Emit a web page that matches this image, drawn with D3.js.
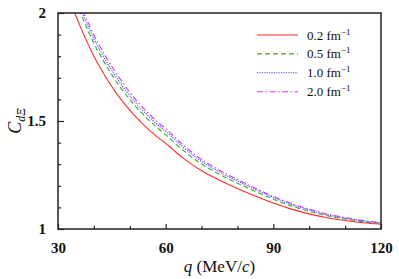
<!DOCTYPE html>
<html>
<head>
<meta charset="utf-8">
<script src="https://cdn.jsdelivr.net/npm/d3@7"></script>
<style>
  body { margin: 0; background: #fff; }
  svg { display: block; font-family: "Liberation Serif", "Times New Roman", serif; }
  .axis path { display: none; }
  .axis line { stroke: #222; stroke-width: 1.2; }
</style>
</head>
<body>
<svg id="chart"></svg>
<script>
(function() {
  // momentum q (MeV/c)
  var qValues = [32, 34, 36, 38, 40, 42, 44, 46, 48, 50, 52, 54, 56, 58, 59.5, 61, 63, 66, 70, 75, 80, 85, 90, 95, 100, 105, 110, 115, 120];

  // C_dXi for each range
  var c02 = [2.12, 2.03, 1.945, 1.87, 1.80, 1.74, 1.685, 1.635, 1.59, 1.55, 1.513, 1.48, 1.45, 1.422, 1.403, 1.383, 1.353, 1.314, 1.27, 1.226, 1.188, 1.153, 1.12, 1.092, 1.07, 1.052, 1.039, 1.029, 1.022];
  var c05 = [2.19, 2.098, 2.01, 1.932, 1.86, 1.798, 1.741, 1.689, 1.642, 1.60, 1.561, 1.526, 1.494, 1.464, 1.444, 1.423, 1.391, 1.349, 1.301, 1.253, 1.212, 1.174, 1.138, 1.107, 1.082, 1.061, 1.046, 1.034, 1.026];
  var c10 = [2.21, 2.118, 2.03, 1.952, 1.88, 1.818, 1.761, 1.709, 1.66, 1.617, 1.577, 1.542, 1.509, 1.479, 1.459, 1.438, 1.406, 1.363, 1.313, 1.264, 1.222, 1.183, 1.146, 1.114, 1.088, 1.066, 1.05, 1.037, 1.028];
  var c20 = [2.228, 2.136, 2.048, 1.97, 1.898, 1.836, 1.779, 1.727, 1.678, 1.633, 1.592, 1.556, 1.522, 1.491, 1.471, 1.45, 1.417, 1.373, 1.322, 1.272, 1.229, 1.189, 1.151, 1.118, 1.092, 1.069, 1.053, 1.039, 1.03];

  var seriesNames = ['0.2', '0.5', '1.0', '2.0'];
  var seriesColors = ['#ff2b2b', '#3faa22', '#3355ff', '#d633ff'];
  var seriesDash = ['none', '5,3', '1.2,1.2', '6,2.5,1.5,2.5'];
  var seriesValues = [c02, c05, c10, c20];

  var xMajor = [30, 60, 90, 120];
  var xMinor = [40, 50, 70, 80, 100, 110];
  var yMajor = [1, 1.5, 2];
  var yMinor = [1.1, 1.2, 1.3, 1.4, 1.6, 1.7, 1.8, 1.9];

  var serif = '"Liberation Serif", "Times New Roman", serif';
  var width = 399, height = 279;
  var margin = { top: 13, right: 18, bottom: 50, left: 58 };
  var w = width - margin.left - margin.right;
  var h = height - margin.top - margin.bottom;

  var x = d3.scaleLinear().domain([30, 120]).range([0, w]);
  var y = d3.scaleLinear().domain([1, 2]).range([h, 0]);

  var svg = d3.select('#chart')
    .attr('width', width)
    .attr('height', height);

  var g = svg.append('g')
    .attr('transform', 'translate(' + margin.left + ',' + margin.top + ')');

  g.append('clipPath')
    .attr('id', 'clip')
    .append('rect')
    .attr('width', w)
    .attr('height', h);

  // curves
  var line = d3.line()
    .x(function(d) { return x(d[0]); })
    .y(function(d) { return y(d[1]); })
    .curve(d3.curveMonotoneX);

  var curves = g.append('g').attr('clip-path', 'url(#clip)');
  seriesValues.forEach(function(vals, i) {
    var pts = qValues.map(function(q, j) { return [q, vals[j]]; });
    curves.append('path')
      .datum(pts)
      .attr('d', line)
      .attr('fill', 'none')
      .attr('stroke', seriesColors[i])
      .attr('stroke-width', 1.1)
      .attr('stroke-dasharray', seriesDash[i]);
  });

  // axes, ticks point inward
  var xAxis = g.append('g')
    .attr('class', 'axis')
    .attr('transform', 'translate(0,' + h + ')')
    .call(d3.axisBottom(x).tickValues(xMajor).tickSize(-5).tickPadding(13).tickFormat(d3.format('d')));
  g.append('g')
    .attr('class', 'axis')
    .attr('transform', 'translate(0,' + h + ')')
    .call(d3.axisBottom(x).tickValues(xMinor).tickSize(-3).tickFormat(''));
  var yAxis = g.append('g')
    .attr('class', 'axis')
    .call(d3.axisLeft(y).tickValues(yMajor).tickSize(-6).tickPadding(12).tickFormat(function(d) { return d; }));
  g.append('g')
    .attr('class', 'axis')
    .call(d3.axisLeft(y).tickValues(yMinor).tickSize(-3).tickFormat(''));

  [xAxis, yAxis].forEach(function(ax) {
    ax.attr('font-family', serif).attr('font-size', 15).attr('font-weight', 'bold');
    ax.selectAll('text')
      .style('font-family', serif)
      .style('font-weight', 'bold')
      .style('font-size', '15px')
      .attr('fill', '#111');
  });

  // frame
  g.append('rect')
    .attr('width', w)
    .attr('height', h)
    .attr('fill', 'none')
    .attr('stroke', '#222')
    .attr('stroke-width', 1.5);

  // x title
  var xt = svg.append('text')
    .attr('x', margin.left + w / 2)
    .attr('y', 272)
    .attr('text-anchor', 'middle')
    .attr('font-size', 17)
    .attr('fill', '#111');
  xt.append('tspan').attr('font-style', 'italic').text('q');
  xt.append('tspan').text(' (MeV/');
  xt.append('tspan').attr('font-style', 'italic').text('c');
  xt.append('tspan').text(')');

  // y title
  var yt = svg.append('text')
    .attr('transform', 'translate(21,' + (margin.top + h / 2) + ') rotate(-90)')
    .attr('text-anchor', 'middle')
    .attr('font-size', 18)
    .attr('fill', '#111');
  yt.append('tspan').attr('font-style', 'italic').text('C');
  yt.append('tspan').attr('font-style', 'italic').attr('font-size', 12).attr('dy', 4).text('dΞ');

  // legend
  var legend = svg.append('g').attr('transform', 'translate(257,35)');
  seriesNames.forEach(function(name, i) {
    var row = legend.append('g').attr('transform', 'translate(0,' + (i * 18.9) + ')');
    row.append('line')
      .attr('x1', 0).attr('x2', 41)
      .attr('y1', 0).attr('y2', 0)
      .attr('stroke', seriesColors[i])
      .attr('stroke-width', 1.1)
      .attr('stroke-dasharray', seriesDash[i]);
    var t = row.append('text')
      .attr('x', 50)
      .attr('y', 4.5)
      .attr('font-size', 13)
      .attr('fill', '#111');
    t.append('tspan').text(name + ' fm');
    t.append('tspan').attr('font-size', 9).attr('dy', -5).text('−1');
  });
}());
</script>
</body>
</html>
